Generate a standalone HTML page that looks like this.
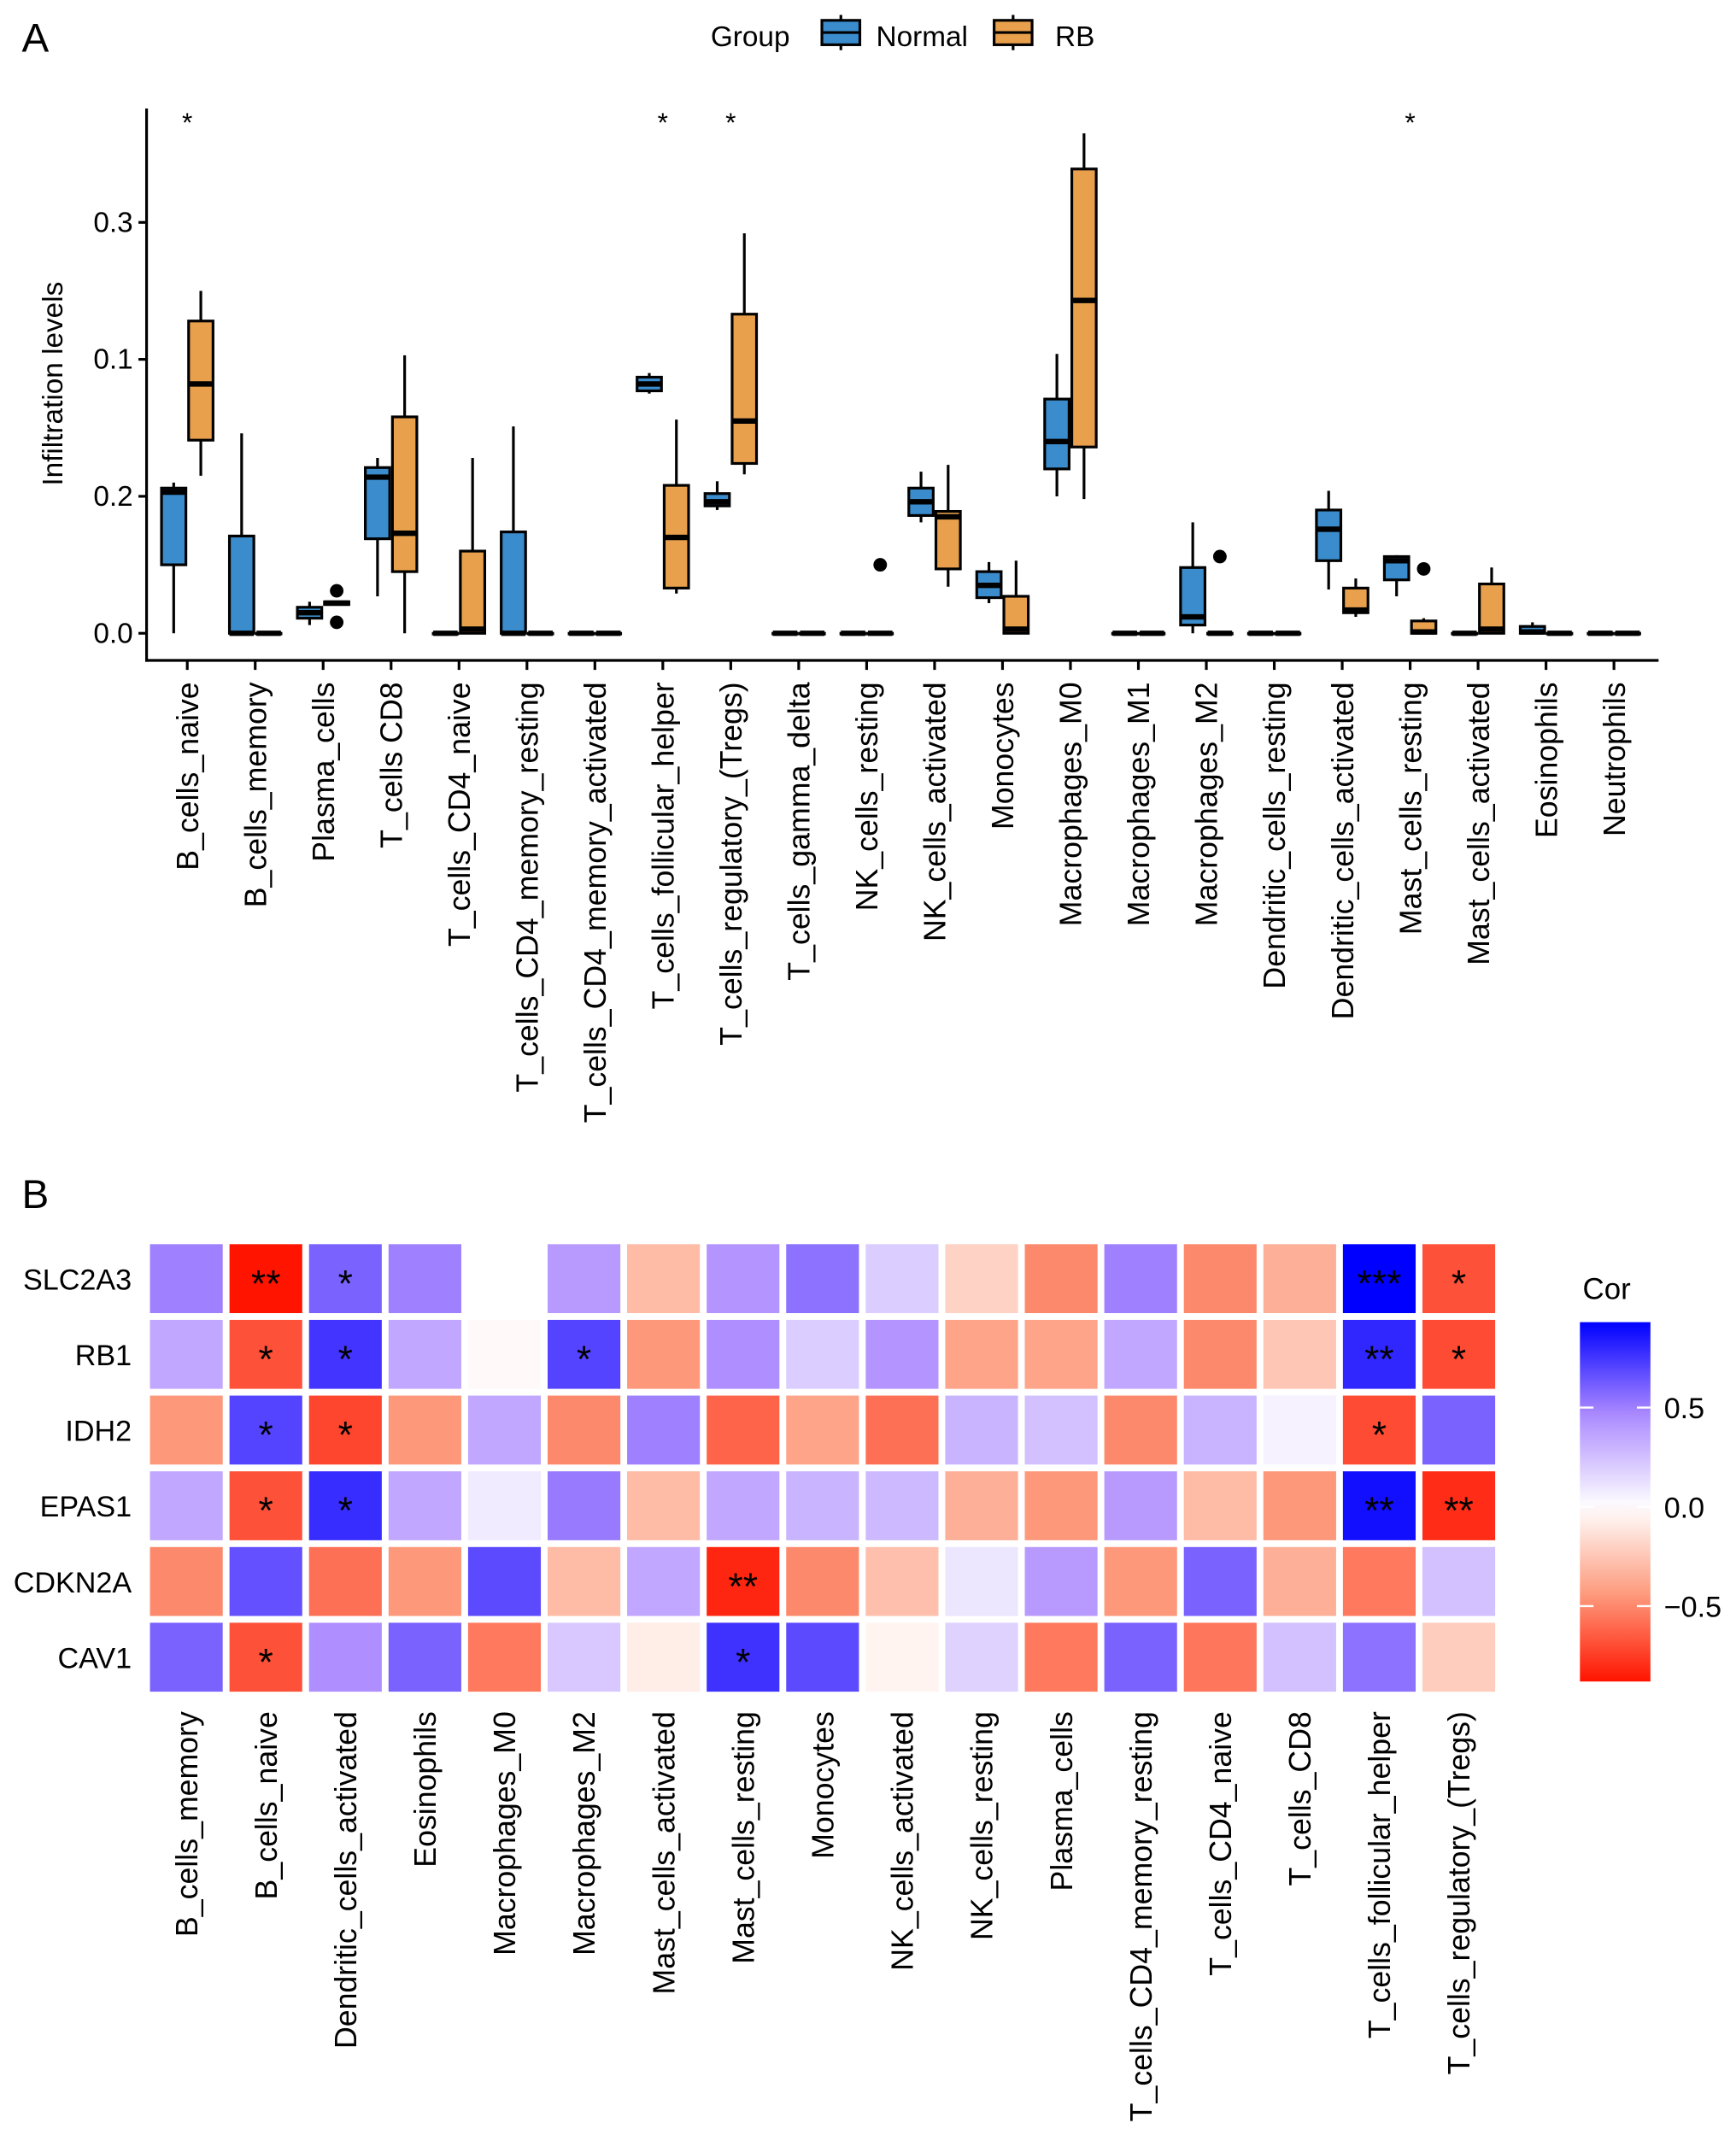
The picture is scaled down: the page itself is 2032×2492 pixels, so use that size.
<!DOCTYPE html>
<html><head><meta charset="utf-8"><style>
html,body{margin:0;padding:0;background:#fff;}
svg{display:block;font-family:"Liberation Sans",sans-serif;}
</style></head><body>
<svg id="fig" width="2032" height="2492" viewBox="0 0 1280 1570">
<text x="16" y="38" font-size="30">A</text>
<g>
<text x="524" y="34" font-size="21">Group</text>
<g>
<line x1="620" y1="11" x2="620" y2="37" stroke="#000" stroke-width="2"/>
<rect x="606" y="15" width="28" height="18" fill="#3a8ccc" stroke="#000" stroke-width="2"/>
<line x1="606" y1="24" x2="634" y2="24" stroke="#000" stroke-width="2"/>
<text x="646" y="34" font-size="21">Normal</text></g>
<g>
<line x1="747" y1="11" x2="747" y2="37" stroke="#000" stroke-width="2"/>
<rect x="733" y="15" width="28" height="18" fill="#e8a04c" stroke="#000" stroke-width="2"/>
<line x1="733" y1="24" x2="761" y2="24" stroke="#000" stroke-width="2"/>
<text x="778" y="34" font-size="21">RB</text></g>
</g>
<g id="boxplot"></g>
<text x="16" y="891" font-size="30">B</text>
<g id="heat"></g>
</svg>
<script>
// ---------- Panel A data ----------
const categories = ["B_cells_naive","B_cells_memory","Plasma_cells","T_cells CD8","T_cells_CD4_naive","T_cells_CD4_memory_resting","T_cells_CD4_memory_activated","T_cells_follicular_helper","T_cells_regulatory_(Tregs)","T_cells_gamma_delta","NK_cells_resting","NK_cells_activated","Monocytes","Macrophages_M0","Macrophages_M1","Macrophages_M2","Dendritic_cells_resting","Dendritic_cells_activated","Mast_cells_resting","Mast_cells_activated","Eosinophils","Neutrophils"];
const yTickLabels = ["0.0","0.2","0.1","0.3"];
// [lo, q1, med, q3, hi] in axis units
const normalStats = [
[0,0.5,1.03,1.06,1.1],[0,0,0,0.71,1.46],[0.06,0.11,0.15,0.19,0.23],[0.27,0.69,1.14,1.21,1.28],[0,0,0,0,0],[0,0,0,0.74,1.51],[0,0,0,0,0],[1.75,1.77,1.82,1.87,1.9],[0.9,0.93,0.96,1.02,1.11],[0,0,0,0,0],[0,0,0,0,0],[0.81,0.86,0.96,1.06,1.18],[0.22,0.26,0.35,0.45,0.52],[1.0,1.2,1.4,1.71,2.04],[0,0,0,0,0],[0,0.06,0.12,0.48,0.81],[0,0,0,0,0],[0.32,0.53,0.76,0.9,1.04],[0.27,0.39,0.53,0.56,0.57],[0,0,0,0,0],[0,0,0.01,0.05,0.08],[0,0,0,0,0]];
const rbStats = [
[1.15,1.41,1.82,2.28,2.5],[0,0,0,0,0],[0.21,0.21,0.22,0.23,0.23],[0,0.45,0.73,1.58,2.03],[0,0,0.03,0.6,1.28],[0,0,0,0,0],[0,0,0,0,0],[0.29,0.33,0.7,1.08,1.56],[1.16,1.24,1.55,2.33,2.92],[0,0,0,0,0],[0,0,0,0,0],[0.34,0.47,0.85,0.89,1.23],[0,0,0.03,0.27,0.53],[0.98,1.36,2.43,3.39,3.65],[0,0,0,0,0],[0,0,0,0,0],[0,0,0,0,0],[0.12,0.15,0.17,0.33,0.4],[0,0,0.01,0.09,0.11],[0,0,0.03,0.36,0.48],[0,0,0,0,0],[0,0,0,0,0]];
const normalOutliers = [[],[],[],[],[],[],[],[],[],[],[],[],[],[],[],[],[],[],[],[],[],[]];
const rbOutliers = [[],[],[0.31,0.08],[],[],[],[],[],[],[],[0.5],[],[],[],[],[0.56],[],[],[0.47],[],[],[]];
const signif = ["*","","","","","","","*","*","","","","","","","","","","*","","",""];

const NS="http://www.w3.org/2000/svg";
function mk(parent,tag,attrs,text){const e=document.createElementNS(NS,tag);for(const k in attrs)e.setAttribute(k,attrs[k]);if(text!==undefined)e.textContent=text;parent.appendChild(e);return e;}
const A=document.getElementById('boxplot');
const yA=v=>467-101*v;
const xA=i=>138+i*50.1;
const ax=mk(A,'line',{x1:108,y1:80,x2:108,y2:488,stroke:'#000','stroke-width':2});


const axx=mk(A,'line',{x1:107,y1:487,x2:1223,y2:487,stroke:'#000','stroke-width':2});


yTickLabels.forEach((t,i)=>{
  const y=yA(i);
  mk(A,'line',{x1:102,y1:y,x2:108,y2:y,stroke:'#000','stroke-width':2});
  const tl=mk(A,'text',{x:98,y:y+7,'font-size':21,'text-anchor':'end'},t);
  
  
});
const yt=mk(A,'text',{x:46,y:283,'font-size':21,'text-anchor':'middle',transform:'rotate(-90 46 283)'},'Infiltration levels');


function drawBox(g,cx,s,fill,outs){
  mk(g,'line',{x1:cx,y1:yA(s[0]),x2:cx,y2:yA(s[4]),stroke:'#000','stroke-width':2});
  const h=Math.max(yA(s[1])-yA(s[3]),0.5);
  mk(g,'rect',{x:cx-9,y:yA(s[3]),width:18,height:h,fill:fill,stroke:'#000','stroke-width':2});
  mk(g,'line',{x1:cx-9,y1:yA(s[2]),x2:cx+9,y2:yA(s[2]),stroke:'#000','stroke-width':4});
  outs.forEach(o=>mk(g,'circle',{cx:cx,cy:yA(o),r:5,fill:'#000'}));
}
categories.forEach((c,i)=>{
  const cx=xA(i);
  mk(A,'line',{x1:cx,y1:487,x2:cx,y2:494,stroke:'#000','stroke-width':2});
  const gn=mk(A,'g',{});
  
  
  drawBox(gn,cx-10,normalStats[i],'#3a8ccc',normalOutliers[i]);
  const gr=mk(A,'g',{});
  
  
  drawBox(gr,cx+10,rbStats[i],'#e8a04c',rbOutliers[i]);
  if(signif[i]){const st=mk(A,'text',{x:cx,y:97,'font-size':20,'text-anchor':'middle'},signif[i]);
    
    }
  const lb=mk(A,'text',{x:cx+8,y:503,'font-size':22.5,'text-anchor':'end',transform:`rotate(-90 ${cx+8} 503)`},c);
  
  
});

// ---------- Panel B data ----------
const genes = ["SLC2A3","RB1","IDH2","EPAS1","CDKN2A","CAV1"];
const cells = ["B_cells_memory","B_cells_naive","Dendritic_cells_activated","Eosinophils","Macrophages_M0","Macrophages_M2","Mast_cells_activated","Mast_cells_resting","Monocytes","NK_cells_activated","NK_cells_resting","Plasma_cells","T_cells_CD4_memory_resting","T_cells_CD4_naive","T_cells_CD8","T_cells_follicular_helper","T_cells_regulatory_(Tregs)"];
const corSLC2A3 = [0.5,-0.88,0.6,0.5,0,0.4,-0.3,0.42,0.55,0.2,-0.2,-0.5,0.5,-0.5,-0.35,0.93,-0.68];
const corRB1 = [0.35,-0.68,0.75,0.35,-0.02,0.7,-0.45,0.45,0.2,0.42,-0.4,-0.4,0.35,-0.5,-0.25,0.8,-0.7];
const corIDH2 = [-0.45,0.7,-0.72,-0.45,0.35,-0.5,0.5,-0.62,-0.4,-0.58,0.3,0.25,-0.5,0.3,0.05,-0.7,0.6];
const corEPAS1 = [0.35,-0.68,0.78,0.35,0.08,0.52,-0.3,0.35,0.3,0.28,-0.35,-0.45,0.4,-0.3,-0.45,0.88,-0.8];
const corCDKN2A = [-0.5,0.66,-0.58,-0.45,0.68,-0.3,0.35,-0.82,-0.5,-0.28,0.1,0.4,-0.45,0.6,-0.35,-0.55,0.25];
const corCAV1 = [0.6,-0.68,0.45,0.6,-0.55,0.22,-0.08,0.76,0.68,-0.05,0.18,-0.55,0.6,-0.56,0.25,0.55,-0.22];
const starsSLC2A3 = ["","**","*","","","","","","","","","","","","","***","*"];
const starsRB1 = ["","*","*","","","*","","","","","","","","","","**","*"];
const starsIDH2 = ["","*","*","","","","","","","","","","","","","*",""];
const starsEPAS1 = ["","*","*","","","","","","","","","","","","","**","**"];
const starsCDKN2A = ["","","","","","","","**","","","","","","","","",""];
const starsCAV1 = ["","*","","","","","","*","","","","","","","","",""];
const corRows=[corSLC2A3,corRB1,corIDH2,corEPAS1,corCDKN2A,corCAV1];
const starRows=[starsSLC2A3,starsRB1,starsIDH2,starsEPAS1,starsCDKN2A,starsCAV1];
const cbTicks=[0.5,0,-0.5];
const cbLabels=["0.5","0.0","\u22120.5"];

function lerp(a,b,t){return a.map((v,i)=>Math.round(v+(b[i]-v)*t));}
function colorFor(v){
  const W=[255,255,255];
  if(v>=0){const M=[172,138,255],B=[0,0,255];const t=Math.min(v/0.93,1);
    const c=t<0.5?lerp(W,M,t/0.5):lerp(M,B,(t-0.5)/0.5);return `rgb(${c})`;}
  const M=[253,155,125],R=[255,20,0];const t=Math.min(-v/0.88,1);
  const c=t<0.5?lerp(W,M,t/0.5):lerp(M,R,(t-0.5)/0.5);return `rgb(${c})`;
}
const H=document.getElementById('heat');
const x0=108,cw=(1105-108)/17,y0=915,rh=(1250-915)/6,gap=5;
genes.forEach((g,r)=>{
  const gl=mk(H,'text',{x:97,y:y0+r*rh+rh/2+8,'font-size':21.5,'text-anchor':'end'},g);
  
  
  cells.forEach((c,j)=>{
    const rc=mk(H,'rect',{x:x0+j*cw+gap/2,y:y0+r*rh+gap/2,width:cw-gap,height:rh-gap,fill:colorFor(corRows[r][j])});
    
    
    const s=starRows[r][j];
    if(s){const st=mk(H,'text',{x:x0+j*cw+cw/2,y:y0+r*rh+rh/2+13,'font-size':28,'text-anchor':'middle'},s);
      
      }
  });
});
cells.forEach((c,j)=>{
  const cx=x0+j*cw+cw/2+8;
  const lb=mk(H,'text',{x:cx,y:1262,'font-size':22.5,'text-anchor':'end',transform:`rotate(-90 ${cx} 1262)`},c);
  
  
});
const defs=mk(H,'defs',{});
const lg=mk(defs,'linearGradient',{id:'cbg',x1:0,y1:0,x2:0,y2:1});
const cbTop=975,cbBot=1240,vTop=0.93,vBot=-0.88;
for(let k=0;k<=20;k++){const v=vTop+(vBot-vTop)*k/20;mk(lg,'stop',{offset:k/20,'stop-color':colorFor(v)});}
const cb=mk(H,'rect',{x:1165,y:cbTop,width:52,height:cbBot-cbTop,fill:'url(#cbg)'});


const yC=v=>cbTop+(vTop-v)/(vTop-vBot)*(cbBot-cbTop);
cbTicks.forEach((v,i)=>{
  const y=yC(v);
  mk(H,'line',{x1:1165,y1:y,x2:1175,y2:y,stroke:'#fff','stroke-width':1.5});
  mk(H,'line',{x1:1207,y1:y,x2:1217,y2:y,stroke:'#fff','stroke-width':1.5});
  const t=mk(H,'text',{x:1227,y:y+8,'font-size':21.5},cbLabels[i]);
  
  
});
const ct=mk(H,'text',{x:1167,y:958,'font-size':22},'Cor');


</script>
</body></html>
